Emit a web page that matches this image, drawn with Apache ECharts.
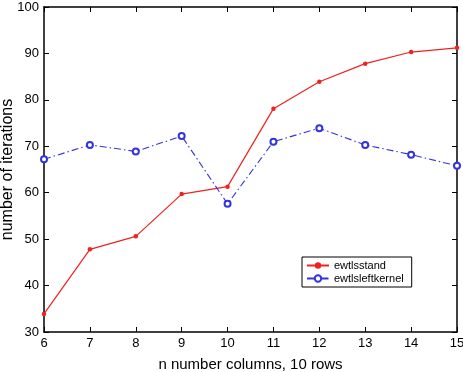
<!DOCTYPE html>
<html><head><meta charset="utf-8">
<script src="https://cdn.jsdelivr.net/npm/echarts@6/dist/echarts.min.js"></script>
<style>html,body{margin:0;padding:0;background:#fff}#c{width:463px;height:372px}</style>
</head><body><div id="c"></div>
<script>
const categories = [6, 7, 8, 9, 10, 11, 12, 13, 14, 15];
const ewtlsstand = [33.9, 47.8, 50.6, 59.7, 61.3, 78.1, 83.9, 87.8, 90.3, 91.2];
const ewtlsleftkernel = [67.2, 70.3, 68.9, 72.2, 57.6, 71.0, 73.9, 70.3, 68.2, 65.8];
const yTicks = [30, 40, 50, 60, 70, 80, 90, 100];

const font = 'Liberation Sans, Arial, Helvetica, sans-serif';
const chart = echarts.init(document.getElementById('c'), null, {renderer: 'canvas'});
const axisLine = {show: true, lineStyle: {color: '#000', width: 1.5}};
const tick = {inside: true, length: 5, lineStyle: {color: '#000'}};
chart.setOption({
  animation: false,
  backgroundColor: '#fff',
  grid: {left: 44, right: 6, top: 7, bottom: 40, containLabel: false, outerBoundsMode: 'none'},
  xAxis: [{
    type: 'value', min: 6, max: 15, interval: 1,
    axisLine: axisLine, axisTick: tick,
    splitLine: {show: false},
    axisLabel: {color: '#000', fontSize: 13, fontFamily: font, margin: 5},
    name: 'n number columns, 10 rows', nameLocation: 'middle', nameGap: 25,
    nameTextStyle: {color: '#000', fontSize: 15, fontFamily: font}
  }, {
    type: 'value', min: 6, max: 15, interval: 1, position: 'top',
    axisLine: axisLine, axisTick: tick,
    axisLabel: {show: false}, splitLine: {show: false}
  }],
  yAxis: [{
    type: 'value', min: yTicks[0], max: yTicks[yTicks.length - 1], interval: 10,
    axisLine: axisLine, axisTick: tick,
    splitLine: {show: false},
    axisLabel: {color: '#000', fontSize: 13, fontFamily: font, margin: 5},
    name: 'number of iterations', nameLocation: 'middle', nameGap: 28, nameMoveOverlap: false,
    nameTextStyle: {color: '#000', fontSize: 16, fontFamily: font}
  }, {
    type: 'value', min: 30, max: 100, interval: 10, position: 'right',
    axisLine: axisLine, axisTick: tick,
    axisLabel: {show: false}, splitLine: {show: false}
  }],
  legend: {
    left: 302, top: 257, orient: 'vertical', itemGap: 2, itemWidth: 22, itemHeight: 8,
    backgroundColor: '#fff', borderColor: '#000', borderWidth: 1, padding: [3, 8, 3, 4],
    textStyle: {color: '#000', fontSize: 11, fontFamily: font},
    data: ['ewtlsstand', 'ewtlsleftkernel']
  },
  series: [{
    name: 'ewtlsstand', type: 'line',
    data: categories.map((c, i) => [c, ewtlsstand[i]]),
    symbol: 'circle', symbolSize: 4.5,
    lineStyle: {color: '#ee2222', width: 1.2},
    itemStyle: {color: '#ee2222'}
  }, {
    name: 'ewtlsleftkernel', type: 'line',
    data: categories.map((c, i) => [c, ewtlsleftkernel[i]]),
    symbol: 'emptyCircle', symbolSize: 6,
    lineStyle: {color: '#3333dd', width: 1.1, type: [7, 3, 1.5, 3]},
    itemStyle: {color: '#3333dd', borderWidth: 1}
  }]
});
</script></body></html>
